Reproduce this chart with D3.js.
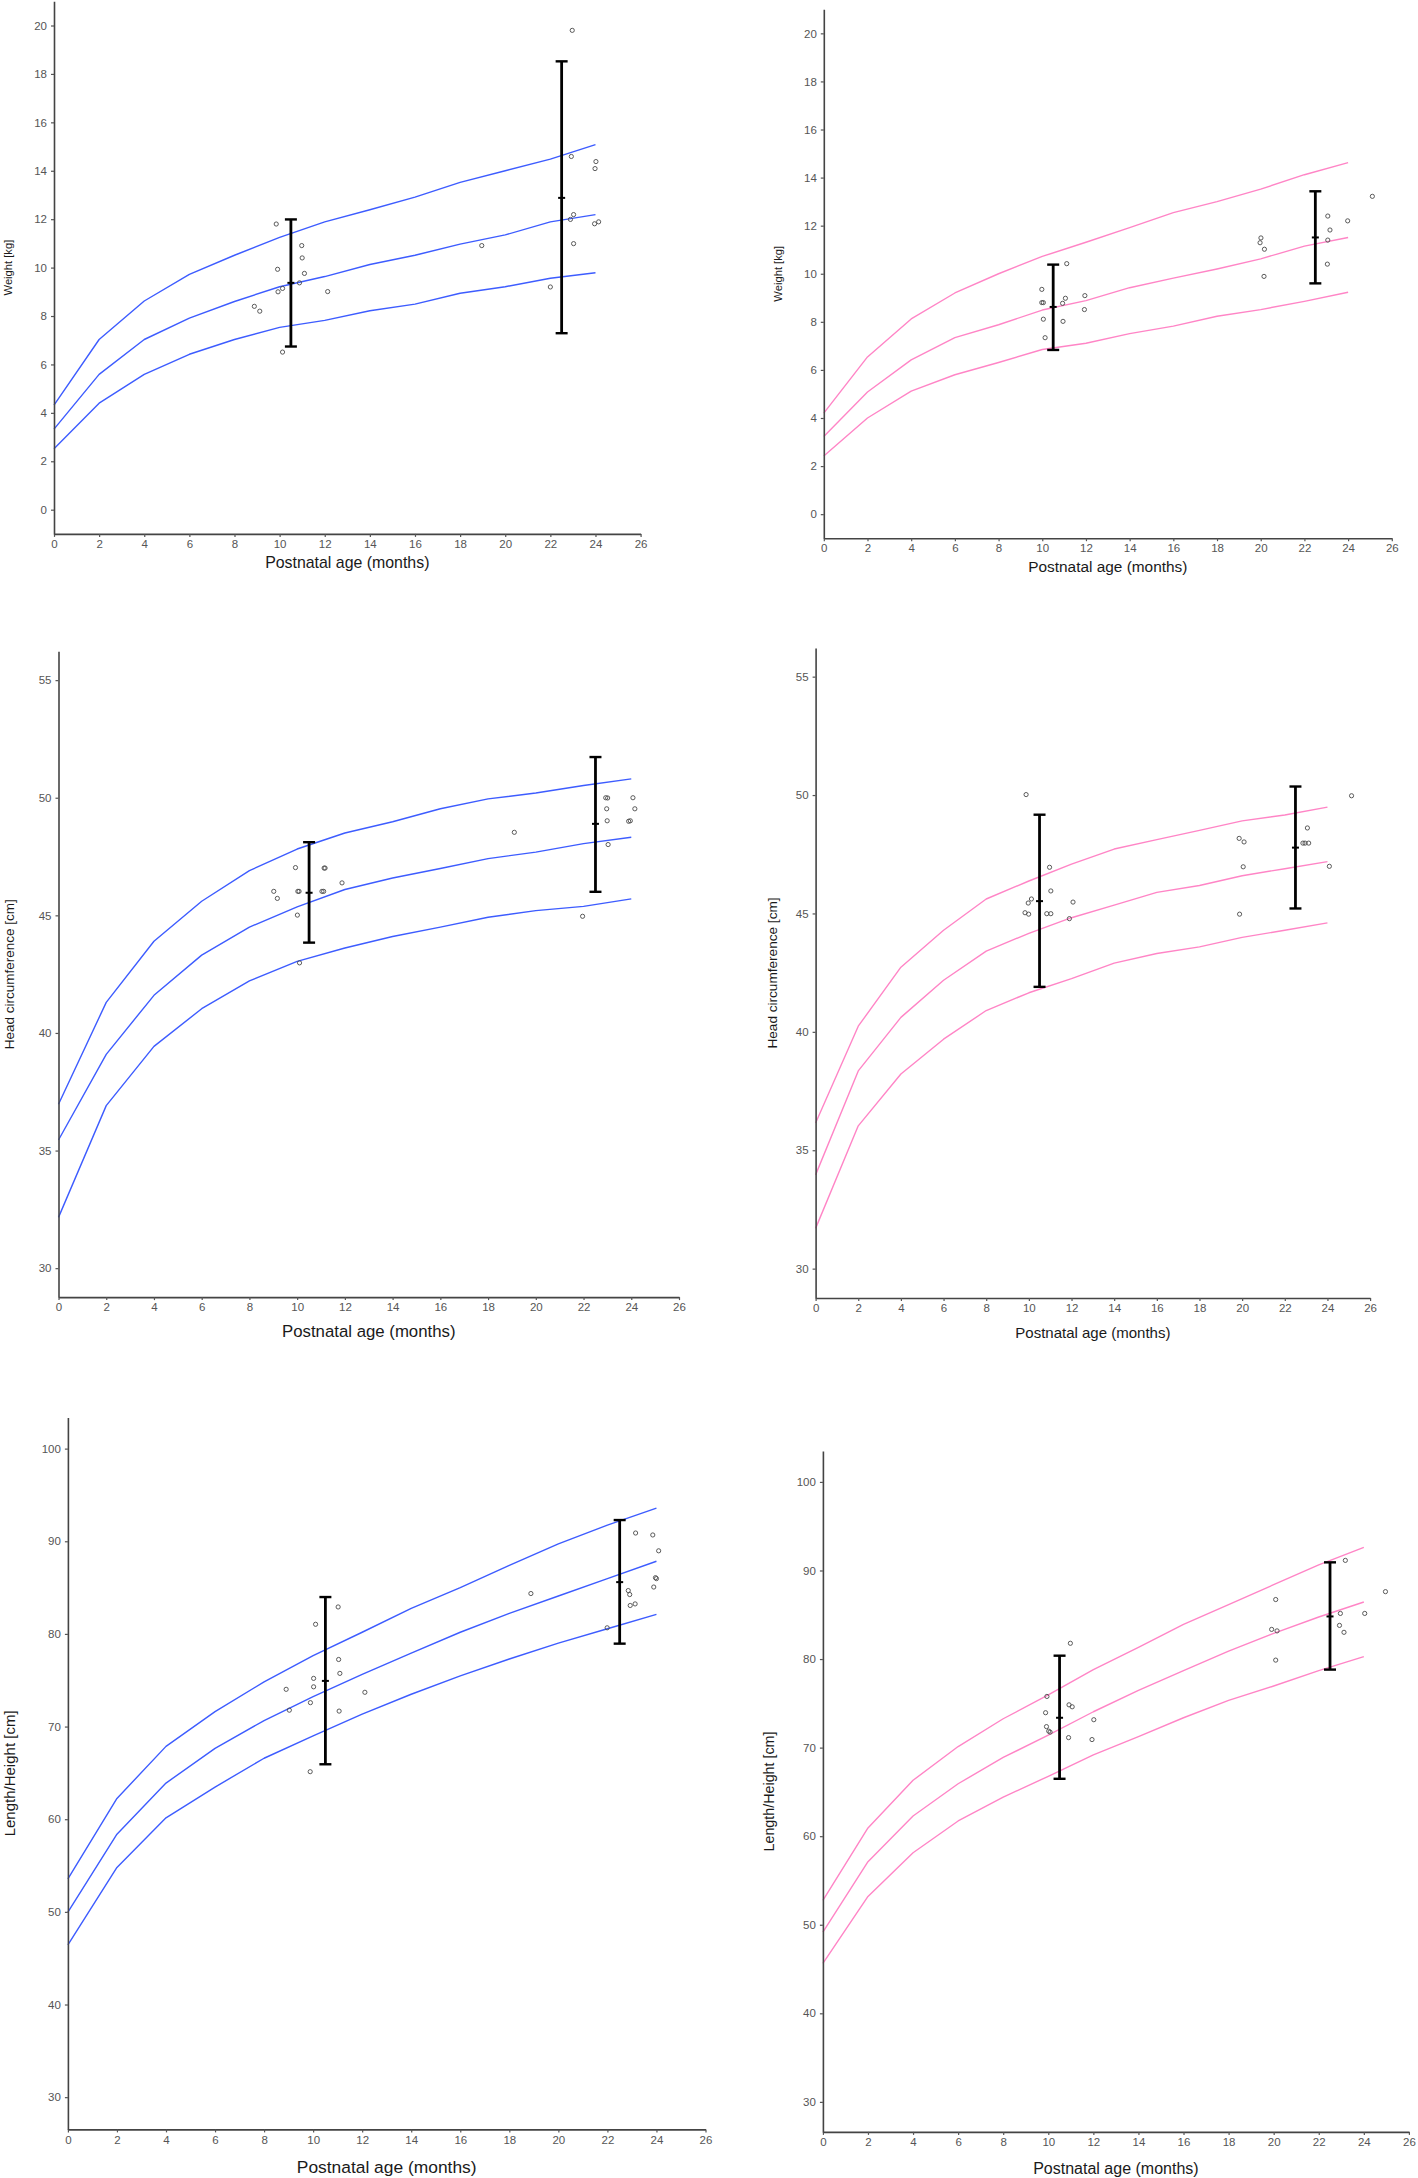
<!DOCTYPE html>
<html>
<head>
<meta charset="utf-8">
<script src="https://cdn.jsdelivr.net/npm/d3@7"></script>
<style>
  html, body { margin: 0; padding: 0; background: #ffffff; }
  svg { display: block; }
  text { font-family: "Liberation Sans", Arial, sans-serif; }
</style>
</head>
<body>
<svg id="chart" width="1418" height="2178"></svg>
<script>
// ---------- DATA ----------
const months = [0, 2, 4, 6, 8, 10, 12, 14, 16, 18, 20, 22, 24];
const xTicks = [0, 2, 4, 6, 8, 10, 12, 14, 16, 18, 20, 22, 24, 26];
const weightTicks = [0, 2, 4, 6, 8, 10, 12, 14, 16, 18, 20];
const headTicks = [30, 35, 40, 45, 50, 55];
const lengthTicks = [30, 40, 50, 60, 70, 80, 90, 100];
const xTitle = "Postnatal age (months)";

// Weight, boys (blue)
const wBoysP97 = [4.32, 7.03, 8.62, 9.72, 10.51, 11.25, 11.89, 12.39, 12.91, 13.52, 14.0, 14.48, 15.08];
const wBoysP50 = [3.33, 5.59, 7.03, 7.91, 8.6, 9.21, 9.63, 10.13, 10.51, 10.97, 11.35, 11.89, 12.19];
const wBoysP3  = [2.52, 4.4, 5.59, 6.42, 7.03, 7.53, 7.82, 8.22, 8.49, 8.94, 9.21, 9.56, 9.79];
const wBoysAge = [9.85, 9.91, 9.93, 10.13, 10.13, 8.88, 9.12, 10.98, 11.0, 11.1, 10.88, 12.13, 18.96, 22.0, 22.97, 22.93, 23.03, 22.89, 23.03, 24.02, 23.98, 23.96, 24.14];
const wBoysVal = [11.8, 9.93, 9.0, 9.14, 6.51, 8.4, 8.2, 10.91, 10.4, 9.76, 9.37, 9.01, 10.91, 9.2, 19.8, 14.59, 12.19, 11.99, 10.99, 14.38, 14.09, 11.81, 11.89];
const wBoysErrAge = [10.5, 22.5];
const wBoysErrLo = [6.74, 7.29];
const wBoysErrMean = [9.37, 12.88];
const wBoysErrHi = [11.99, 18.52];

// Weight, girls (pink)
const wGirlsP97 = [4.2, 6.54, 8.12, 9.2, 10.0, 10.72, 11.31, 11.92, 12.54, 13.0, 13.52, 14.12, 14.62];
const wGirlsP50 = [3.23, 5.08, 6.42, 7.34, 7.88, 8.49, 8.88, 9.42, 9.82, 10.2, 10.62, 11.15, 11.51];
const wGirlsP3  = [2.42, 4.0, 5.12, 5.8, 6.31, 6.85, 7.11, 7.51, 7.82, 8.23, 8.51, 8.85, 9.23];
const wGirlsAge = [9.98, 9.98, 10.05, 10.05, 10.13, 11.12, 11.06, 10.93, 10.95, 11.95, 11.93, 20.01, 19.97, 20.17, 20.15, 23.07, 23.17, 23.07, 23.05, 23.98, 25.11];
const wGirlsVal = [9.35, 8.8, 8.8, 8.11, 7.34, 10.42, 8.98, 8.77, 8.02, 9.09, 8.51, 11.49, 11.29, 11.02, 9.89, 12.4, 11.82, 11.4, 10.4, 12.2, 13.22];
const wGirlsErrAge = [10.5, 22.5];
const wGirlsErrLo = [6.83, 9.6];
const wGirlsErrMean = [8.62, 11.51];
const wGirlsErrHi = [10.38, 13.43];

// Head circumference, boys
const hcBoysP97 = [36.97, 41.3, 43.9, 45.6, 46.9, 47.82, 48.5, 48.98, 49.53, 49.95, 50.2, 50.52, 50.8];
const hcBoysP50 = [35.45, 39.09, 41.6, 43.31, 44.5, 45.36, 46.1, 46.59, 46.99, 47.41, 47.69, 48.05, 48.32];
const hcBoysP3  = [32.16, 36.91, 39.43, 41.03, 42.21, 43.04, 43.61, 44.1, 44.5, 44.92, 45.2, 45.38, 45.7];
const hcBoysAge = [9.02, 9.17, 9.93, 10.03, 10.08, 10.01, 10.1, 11.13, 11.17, 11.04, 11.11, 11.88, 19.1, 21.96, 22.93, 23.01, 22.97, 22.99, 23.03, 24.07, 24.15, 23.89, 23.96];
const hcBoysVal = [46.02, 45.72, 47.03, 46.02, 46.02, 45.01, 42.98, 47.01, 47.01, 46.02, 46.02, 46.38, 48.53, 44.96, 50.0, 49.99, 49.53, 49.02, 48.01, 50.0, 49.53, 49.0, 49.02];
const hcBoysErrAge = [10.5, 22.5];
const hcBoysErrLo = [43.84, 46.0];
const hcBoysErrMean = [45.96, 48.89];
const hcBoysErrHi = [48.11, 51.73];

// Head circumference, girls
const hcGirlsP97 = [36.15, 40.24, 42.73, 44.29, 45.61, 46.37, 47.08, 47.72, 48.12, 48.51, 48.91, 49.16, 49.49];
const hcGirlsP50 = [33.96, 38.35, 40.61, 42.18, 43.41, 44.16, 44.82, 45.35, 45.89, 46.18, 46.59, 46.89, 47.19];
const hcGirlsP3  = [31.7, 36.03, 38.22, 39.69, 40.9, 41.65, 42.25, 42.9, 43.31, 43.59, 43.99, 44.29, 44.6];
const hcGirlsAge = [9.87, 9.82, 9.99, 9.97, 10.12, 10.97, 11.03, 10.84, 11.03, 12.07, 11.9, 19.86, 20.09, 20.05, 19.88, 23.06, 22.85, 22.95, 23.12, 24.09, 25.13];
const hcGirlsVal = [50.02, 45.03, 44.97, 45.44, 45.61, 46.95, 45.95, 44.99, 44.99, 45.48, 44.78, 48.17, 48.02, 46.97, 44.97, 48.61, 47.97, 47.97, 47.97, 46.99, 49.97];
const hcGirlsErrAge = [10.5, 22.5];
const hcGirlsErrLo = [41.9, 45.21];
const hcGirlsErrMean = [45.52, 47.78];
const hcGirlsErrHi = [49.17, 50.36];

// Length/Height, boys
const lenBoysP97 = [53.56, 62.24, 67.86, 71.61, 74.83, 77.66, 80.18, 82.75, 85.0, 87.41, 89.72, 91.75, 93.57];
const lenBoysP50 = [49.97, 58.38, 63.9, 67.65, 70.65, 73.22, 75.63, 77.93, 80.18, 82.22, 84.09, 85.97, 87.84];
const lenBoysP3  = [46.44, 54.79, 60.15, 63.47, 66.58, 68.99, 71.34, 73.49, 75.47, 77.29, 79.0, 80.56, 82.11];
const lenBoysAge = [8.9, 9.03, 9.89, 9.88, 10.02, 10.02, 10.1, 11.02, 11.04, 11.09, 11.06, 12.11, 18.88, 21.99, 23.15, 22.85, 22.91, 22.93, 23.13, 23.85, 24.09, 23.96, 24.0, 23.89];
const lenBoysVal = [74.02, 71.77, 72.58, 65.13, 75.2, 74.29, 81.04, 82.91, 77.24, 75.74, 71.67, 73.7, 84.36, 80.66, 90.89, 84.68, 84.25, 83.07, 83.24, 90.68, 88.97, 86.07, 85.97, 85.06];
const lenBoysErrAge = [10.5, 22.5];
const lenBoysErrLo = [65.93, 78.95];
const lenBoysErrMean = [74.93, 85.59];
const lenBoysErrHi = [83.98, 92.29];

// Length/Height, girls
const lenGirlsP97 = [52.75, 60.93, 66.31, 70.12, 73.26, 75.95, 78.81, 81.33, 83.91, 86.15, 88.4, 90.64, 92.6];
const lenGirlsP50 = [49.16, 57.12, 62.28, 65.92, 68.89, 71.41, 74.05, 76.46, 78.7, 80.89, 82.9, 84.75, 86.44];
const lenGirlsP3  = [45.63, 53.2, 58.13, 61.72, 64.41, 66.76, 69.17, 71.24, 73.37, 75.34, 76.96, 78.7, 80.27];
const lenGirlsAge = [9.94, 9.88, 9.92, 10.02, 10.08, 10.98, 10.92, 11.06, 10.9, 12.02, 11.94, 19.91, 20.15, 20.09, 20.09, 23.18, 22.96, 22.92, 23.12, 24.04, 24.96];
const lenGirlsVal = [75.78, 73.94, 72.37, 71.86, 71.75, 81.78, 74.83, 74.61, 71.13, 73.15, 70.91, 83.35, 83.18, 86.72, 79.88, 91.14, 85.15, 83.8, 83.02, 85.15, 87.61];
const lenGirlsErrAge = [10.5, 22.5];
const lenGirlsErrLo = [66.48, 78.81];
const lenGirlsErrMean = [73.37, 84.81];
const lenGirlsErrHi = [80.38, 90.92];

// ---------- PANELS (layout kept separate from data) ----------
const BLUE = "#3d5cff";
const PINK = "#ff85c6";

const panels = [
  { title: "Weight [kg]", color: BLUE, curves: [wBoysP97, wBoysP50, wBoysP3],
    age: wBoysAge, val: wBoysVal, eAge: wBoysErrAge, eLo: wBoysErrLo, eMean: wBoysErrMean, eHi: wBoysErrHi,
    yTicks: weightTicks, yDom: [-1, 21],
    xr: [54.0, 640.6], yr: [533.9, 1.3], yTitleX: 8, yTitleSize: 11.2, xTitleY: 562, xTitleSize: 15.9 },
  { title: "Weight [kg]", color: PINK, curves: [wGirlsP97, wGirlsP50, wGirlsP3],
    age: wGirlsAge, val: wGirlsVal, eAge: wGirlsErrAge, eLo: wGirlsErrLo, eMean: wGirlsErrMean, eHi: wGirlsErrHi,
    yTicks: weightTicks, yDom: [-1, 21],
    xr: [823.8, 1391.8], yr: [538.2, 9.3], yTitleX: 777.7, yTitleSize: 11.2, xTitleY: 566, xTitleSize: 15.4 },
  { title: "Head circumference [cm]", color: BLUE, curves: [hcBoysP97, hcBoysP50, hcBoysP3],
    age: hcBoysAge, val: hcBoysVal, eAge: hcBoysErrAge, eLo: hcBoysErrLo, eMean: hcBoysErrMean, eHi: hcBoysErrHi,
    yTicks: headTicks, yDom: [28.77, 56.23],
    xr: [58.5, 679.0], yr: [1297.1, 651.2], yTitleX: 9.8, yTitleSize: 13.5, xTitleY: 1331, xTitleSize: 16.8 },
  { title: "Head circumference [cm]", color: PINK, curves: [hcGirlsP97, hcGirlsP50, hcGirlsP3],
    age: hcGirlsAge, val: hcGirlsVal, eAge: hcGirlsErrAge, eLo: hcGirlsErrLo, eMean: hcGirlsErrMean, eHi: hcGirlsErrHi,
    yTicks: headTicks, yDom: [28.76, 56.21],
    xr: [815.6, 1370.1], yr: [1298.0, 648.0], yTitleX: 772.3, yTitleSize: 13.6, xTitleY: 1332, xTitleSize: 15.0 },
  { title: "Length/Height [cm]", color: BLUE, curves: [lenBoysP97, lenBoysP50, lenBoysP3],
    age: lenBoysAge, val: lenBoysVal, eAge: lenBoysErrAge, eLo: lenBoysErrLo, eMean: lenBoysErrMean, eHi: lenBoysErrHi,
    yTicks: lengthTicks, yDom: [26.52, 103.37],
    xr: [67.9, 705.5], yr: [2129.4, 1417.4], yTitleX: 9.1, yTitleSize: 15.0, xTitleY: 2166.6, xTitleSize: 17.4 },
  { title: "Length/Height [cm]", color: PINK, curves: [lenGirlsP97, lenGirlsP50, lenGirlsP3],
    age: lenGirlsAge, val: lenGirlsVal, eAge: lenGirlsErrAge, eLo: lenGirlsErrLo, eMean: lenGirlsErrMean, eHi: lenGirlsErrHi,
    yTicks: lengthTicks, yDom: [26.61, 103.48],
    xr: [822.9, 1408.9], yr: [2131.9, 1451.1], yTitleX: 768.7, yTitleSize: 14.3, xTitleY: 2168, xTitleSize: 16.0 }
];

const svg = d3.select("#chart");

panels.forEach(p => {
  const x = d3.scaleLinear().domain([0, 26]).range(p.xr);
  const y = d3.scaleLinear().domain(p.yDom).range(p.yr);
  const g = svg.append("g");

  // reference curves
  const line = d3.line().x((d, i) => x(months[i])).y(d => y(d));
  p.curves.forEach(c => {
    g.append("path").datum(c).attr("d", line)
      .attr("fill", "none").attr("stroke", p.color).attr("stroke-width", 1.4)
      .attr("stroke-linejoin", "round");
  });

  // individual points
  g.selectAll("circle.pt").data(p.age).enter().append("circle")
    .attr("class", "pt")
    .attr("cx", d => x(d))
    .attr("cy", (d, i) => y(p.val[i]))
    .attr("r", 2.1)
    .attr("fill", "none").attr("stroke", "#4a4a4a").attr("stroke-width", 0.9);

  // error bars
  p.eAge.forEach((a, i) => {
    const cx = x(a);
    g.append("line").attr("x1", cx).attr("x2", cx)
      .attr("y1", y(p.eLo[i])).attr("y2", y(p.eHi[i]))
      .attr("stroke", "#000").attr("stroke-width", 2.8);
    [p.eLo[i], p.eHi[i]].forEach(v => {
      g.append("line").attr("x1", cx - 6).attr("x2", cx + 6)
        .attr("y1", y(v)).attr("y2", y(v))
        .attr("stroke", "#000").attr("stroke-width", 2.4);
    });
    g.append("line").attr("x1", cx - 3.5).attr("x2", cx + 3.5)
      .attr("y1", y(p.eMean[i])).attr("y2", y(p.eMean[i]))
      .attr("stroke", "#000").attr("stroke-width", 2);
  });

  // axes
  const xAxis = d3.axisBottom(x).tickValues(xTicks).tickSize(3).tickSizeOuter(0).tickPadding(3);
  const yAxis = d3.axisLeft(y).tickValues(p.yTicks).tickSize(3).tickSizeOuter(0).tickPadding(4);

  const gx = g.append("g").attr("transform", `translate(0,${p.yr[0]})`).call(xAxis);
  const gy = g.append("g").attr("transform", `translate(${p.xr[0]},0)`).call(yAxis);
  [gx, gy].forEach(ax => {
    ax.select(".domain").attr("stroke", "#444").attr("stroke-width", 1.6);
    ax.selectAll(".tick line").attr("stroke", "#555").attr("stroke-width", 1.2);
    ax.selectAll(".tick text").attr("fill", "#555").attr("font-size", 11.5)
      .attr("font-family", "'Liberation Sans', Arial, sans-serif");
  });

  // titles
  g.append("text")
    .attr("x", (p.xr[0] + p.xr[1]) / 2).attr("y", p.xTitleY)
    .attr("text-anchor", "middle").attr("dominant-baseline", "central")
    .attr("font-size", p.xTitleSize).attr("fill", "#1a1a1a")
    .text(xTitle);
  const yc = (p.yr[0] + p.yr[1]) / 2;
  g.append("text")
    .attr("transform", `translate(${p.yTitleX},${yc}) rotate(-90)`)
    .attr("text-anchor", "middle").attr("dominant-baseline", "central")
    .attr("font-size", p.yTitleSize).attr("fill", "#1a1a1a")
    .text(p.title);
});
</script>
</body>
</html>
